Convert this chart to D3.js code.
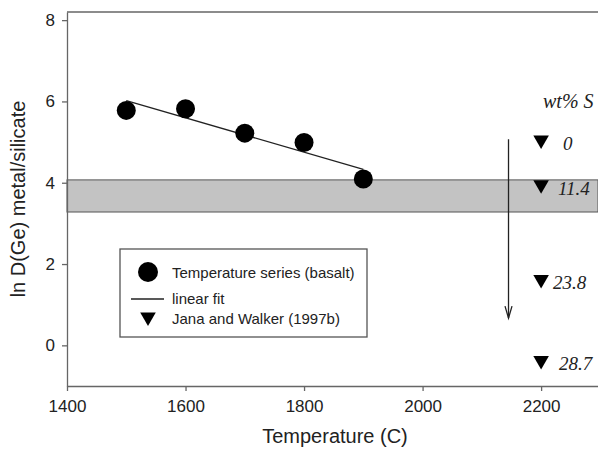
<!DOCTYPE html>
<html>
<head>
<meta charset="utf-8">
<script src="https://cdnjs.cloudflare.com/ajax/libs/d3/7.8.5/d3.min.js"></script>
<style>
  body { margin: 0; background: #fff; }
  svg { display: block; }
  .axis text { font-family: "Liberation Sans", Arial, sans-serif; font-size: 17px; fill: #222; }
  .axis path, .axis line { stroke: #666; stroke-width: 1.3; }
</style>
</head>
<body>
<div id="chart"></div>
<script>
// temperature series (basalt)
const temps = [1500, 1600, 1700, 1800, 1900];
const lnD = [5.78, 5.82, 5.22, 4.99, 4.09];
// linear fit end points
const fitT = [1500, 1900];
const fitD = [6.02, 4.33];
// Jana and Walker (1997b)
const janaT = [2200, 2200, 2200, 2200];
const janaD = [5.05, 3.95, 1.62, -0.37];
const janaS = ["0", "11.4", "23.8", "28.7"];
// gray band
const band = [3.28, 4.07];
// arrow
const arrowT = 2145;
const arrowD = [5.07, 0.67];

const xTicks = [1400, 1600, 1800, 2000, 2200];
const yTicks = [0, 2, 4, 6, 8];

const W = 598, H = 449;
const margin = { top: 12, right: 0, bottom: 63, left: 67 };

const x = d3.scaleLinear().domain([1400, 2296]).range([margin.left, W - margin.right]);
const y = d3.scaleLinear().domain([-1, 8.2]).range([H - margin.bottom, margin.top]);

const svg = d3.select("#chart").append("svg")
    .attr("width", W)
    .attr("height", H);

// band
svg.append("rect")
    .attr("x", x(1400))
    .attr("y", y(band[1]))
    .attr("width", x.range()[1] - x(1400))
    .attr("height", y(band[0]) - y(band[1]))
    .attr("fill", "#c3c3c3")
    .attr("stroke", "#555")
    .attr("stroke-width", 1);

// top frame
svg.append("line")
    .attr("x1", x(1400)).attr("x2", x.range()[1])
    .attr("y1", y(8.2)).attr("y2", y(8.2))
    .attr("stroke", "#666").attr("stroke-width", 1.3);

// axes
svg.append("g")
    .attr("class", "axis")
    .attr("transform", `translate(0,${y(-1)})`)
    .call(d3.axisBottom(x).tickValues(xTicks).tickFormat(d3.format("d")).tickSize(5).tickSizeOuter(0).tickPadding(9));

svg.append("g")
    .attr("class", "axis")
    .attr("transform", `translate(${x(1400)},0)`)
    .call(d3.axisLeft(y).tickValues(yTicks).tickSize(5).tickSizeOuter(0).tickPadding(7));

// axis titles
svg.append("text")
    .attr("x", 335)
    .attr("y", 443)
    .attr("text-anchor", "middle")
    .style("font-family", "Liberation Sans, Arial, sans-serif")
    .style("font-size", "20px")
    .style("fill", "#222")
    .text("Temperature (C)");

svg.append("text")
    .attr("transform", `translate(25,${y(3.6)}) rotate(-90)`)
    .attr("text-anchor", "middle")
    .style("font-family", "Liberation Sans, Arial, sans-serif")
    .style("font-size", "20px")
    .style("fill", "#222")
    .text("ln D(Ge) metal/silicate");

// linear fit
svg.append("line")
    .attr("x1", x(fitT[0])).attr("y1", y(fitD[0]))
    .attr("x2", x(fitT[1])).attr("y2", y(fitD[1]))
    .attr("stroke", "#222").attr("stroke-width", 1.3);

// circles
svg.selectAll(".dot")
    .data(temps)
    .enter().append("circle")
    .attr("class", "dot")
    .attr("cx", d => x(d))
    .attr("cy", (d, i) => y(lnD[i]))
    .attr("r", 9.5)
    .attr("fill", "#000");

// arrow
svg.append("line")
    .attr("x1", x(arrowT)).attr("x2", x(arrowT))
    .attr("y1", y(arrowD[0])).attr("y2", y(arrowD[1]))
    .attr("stroke", "#222").attr("stroke-width", 1.3);
svg.append("path")
    .attr("d", `M${x(arrowT) - 3.5},${y(arrowD[1]) - 12} L${x(arrowT)},${y(arrowD[1])} L${x(arrowT) + 3.5},${y(arrowD[1]) - 12}`)
    .attr("fill", "none")
    .attr("stroke", "#222").attr("stroke-width", 1.3);

// triangles
const tri = d3.symbol().type(d3.symbolTriangle).size(105);
svg.selectAll(".tri")
    .data(janaT)
    .enter().append("path")
    .attr("class", "tri")
    .attr("d", tri)
    .attr("transform", (d, i) => `translate(${x(d)},${y(janaD[i])}) rotate(180)`)
    .attr("fill", "#000");

const labelX = [563, 558, 553, 559];
svg.selectAll(".slabel")
    .data(janaS)
    .enter().append("text")
    .attr("class", "slabel")
    .attr("x", (d, i) => labelX[i])
    .attr("y", (d, i) => y(janaD[i]) + 10)
    .style("font-family", "Liberation Serif, Times New Roman, serif")
    .style("font-style", "italic")
    .style("font-size", "19px")
    .style("fill", "#222")
    .text(d => d);

svg.append("text")
    .attr("x", 543)
    .attr("y", 108)
    .style("font-family", "Liberation Serif, Times New Roman, serif")
    .style("font-style", "italic")
    .style("font-size", "20px")
    .style("fill", "#222")
    .text("wt% S");

// legend
const lg = svg.append("g");
lg.append("rect")
    .attr("x", 120).attr("y", 249)
    .attr("width", 247).attr("height", 88)
    .attr("fill", "#fff")
    .attr("stroke", "#555").attr("stroke-width", 1.3);
lg.append("circle").attr("cx", 148).attr("cy", 272).attr("r", 10).attr("fill", "#000");
lg.append("line").attr("x1", 131).attr("x2", 164).attr("y1", 299).attr("y2", 299)
    .attr("stroke", "#222").attr("stroke-width", 1.3);
lg.append("path").attr("d", tri).attr("transform", "translate(148,317) rotate(180)").attr("fill", "#000");
const legendText = ["Temperature series (basalt)", "linear fit", "Jana and Walker (1997b)"];
const legendY = [278, 304, 324];
lg.selectAll(".lt")
    .data(legendText)
    .enter().append("text")
    .attr("class", "lt")
    .attr("x", 172)
    .attr("y", (d, i) => legendY[i])
    .style("font-family", "Liberation Sans, Arial, sans-serif")
    .style("font-size", "15px")
    .style("fill", "#222")
    .text(d => d);
</script>
</body>
</html>
